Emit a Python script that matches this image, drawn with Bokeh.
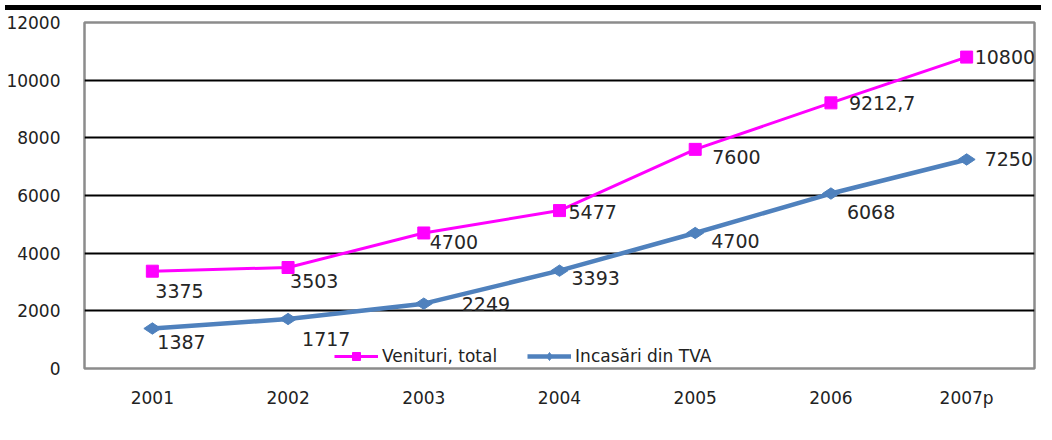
import math
from bokeh.plotting import figure
from bokeh.models import FactorRange, Range1d, FixedTicker, Legend, LegendItem, ColumnDataSource, Div
from bokeh.layouts import column
from bokeh.embed import file_html
from bokeh.resources import INLINE
from bokeh.core.properties import value

years = ["2001", "2002", "2003", "2004", "2005", "2006", "2007p"]
venituri = [3375, 3503, 4700, 5477, 7600, 9212.7, 10800]
venituri_labels = ["3375", "3503", "4700", "5477", "7600", "9212,7", "10800"]
tva = [1387, 1717, 2249, 3393, 4700, 6068, 7250]
tva_labels = ["1387", "1717", "2249", "3393", "4700", "6068", "7250"]
y_ticks = [0, 2000, 4000, 6000, 8000, 10000, 12000]
grid_ticks = [0, 2000, 4000, 6000, 8000, 10000]

# label placement (layout only, pixels)
ven_dx = [3, 2, 6, 9, 17, 18, 8]
ven_dy = [20, 14, 9, 1, 8, 0, 0]
tva_dx = [5, 14, 38, 12, 16, 16, 18]
tva_dy = [13, 20, 0, 7, 8, 18, 0]

FONT = "DejaVu Sans"
MAGENTA = "#FF00FF"
BLUE = "#4F81BD"

src_v = ColumnDataSource(dict(x=years, y=venituri, t=venituri_labels, dx=ven_dx, dy=ven_dy))
src_t = ColumnDataSource(dict(x=years, y=tva, t=tva_labels, dx=tva_dx, dy=tva_dy))

p = figure(width=1036, height=419, output_backend="svg", toolbar_location=None,
           x_range=FactorRange(*years, range_padding=0), y_range=Range1d(0, 12000),
           min_border_left=84, min_border_right=2, min_border_top=7, min_border_bottom=66)

p.background_fill_color = "white"
p.border_fill_color = "white"
p.outline_line_color = "#8C8C8C"
p.outline_line_width = 2.5

p.xgrid.grid_line_color = None
p.ygrid.ticker = FixedTicker(ticks=grid_ticks)
p.ygrid.grid_line_color = "black"
p.ygrid.grid_line_width = 2

p.yaxis.ticker = FixedTicker(ticks=y_ticks)
for ax in (p.xaxis[0], p.yaxis[0]):
    ax.axis_line_color = None
    ax.major_tick_line_color = None
    ax.minor_tick_line_color = None
    ax.major_label_text_font = FONT
    ax.major_label_text_font_size = "17px"
    ax.major_label_text_color = "#222222"
p.yaxis.major_label_standoff = 18
p.xaxis.major_label_standoff = 13

l1 = p.line("x", "y", source=src_v, line_color=MAGENTA, line_width=3)
s1 = p.scatter("x", "y", source=src_v, marker="square", size=12, fill_color=MAGENTA, line_color=MAGENTA)
l2 = p.line("x", "y", source=src_t, line_color=BLUE, line_width=4.5)
s2 = p.scatter("x", "y", source=src_t, marker="diamond", size=17, angle=math.pi / 2,
               fill_color=BLUE, line_color=BLUE)

for src in (src_v, src_t):
    p.text("x", "y", text="t", source=src, x_offset="dx", y_offset="dy",
           text_font=value(FONT), text_font_size="19px", text_color="#262626",
           text_align="left", text_baseline="middle")

legend = Legend(items=[LegendItem(label="Venituri, total", renderers=[l1, s1]),
                       LegendItem(label="Incasări din TVA", renderers=[l2, s2])],
                orientation="horizontal", location=(250, 2),
                border_line_color=None, background_fill_alpha=0,
                padding=0, margin=0, spacing=30, glyph_width=44, label_standoff=4,
                label_height=18,
                label_text_font=FONT, label_text_font_size="17px", label_text_color="#222222")
p.add_layout(legend)

bar = Div(width=1036, height=5, styles={"background-color": "black"})
layout = column(bar, p, spacing=0)

open("out.html", "w").write(file_html(layout, INLINE))
